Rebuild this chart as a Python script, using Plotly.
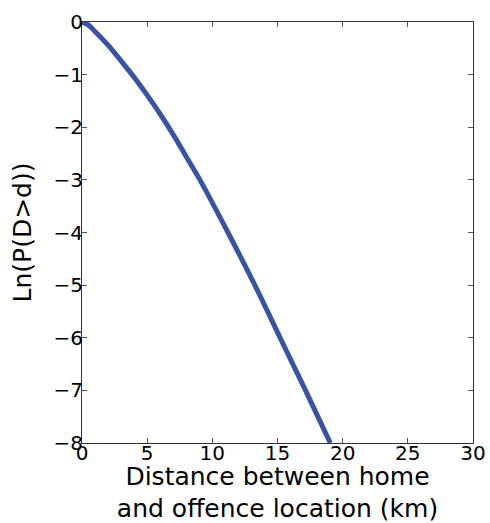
import plotly.graph_objects as go

# Data
distance_km = [0, 0.5, 1, 2, 3, 4, 5, 6, 7, 8, 9.05, 11.2, 13.26, 15.2, 17.15, 19.05]
ln_survival = [0, -0.06, -0.18, -0.44, -0.74, -1.05, -1.39, -1.75, -2.14, -2.56, -3.0,
               -4.0, -5.0, -6.0, -7.0, -8.0]

x_ticks = [0, 5, 10, 15, 20, 25, 30]
y_ticks = [0, -1, -2, -3, -4, -5, -6, -7, -8]

FONT = "DejaVu Sans"

fig = go.Figure()
fig.add_trace(go.Scatter(
    x=distance_km, y=ln_survival, mode="lines",
    line=dict(color="#3953a4", width=5, shape="spline", smoothing=1),
    showlegend=False, hoverinfo="skip", cliponaxis=True))

axis_common = dict(
    showgrid=False, zeroline=False, showline=True, linecolor="#333333", linewidth=1,
    mirror="allticks", ticks="inside", ticklen=5, tickcolor="#555555", tickwidth=1,
    tickfont=dict(family=FONT, size=20, color="black"),
)

fig.update_xaxes(
    range=[0, 30], tickvals=x_ticks, ticktext=[str(v) for v in x_ticks],
    title=dict(text="Distance between home<br>and offence location (km)",
               font=dict(family=FONT, size=25, color="black"), standoff=14),
    ticklabelstandoff=-8,
    **axis_common)
fig.update_yaxes(
    range=[-8, 0], tickvals=y_ticks,
    title=dict(text="Ln(P(D>d))", font=dict(family=FONT, size=25, color="black"), standoff=14),
    ticklabelstandoff=-6,
    **axis_common)

fig.update_layout(
    width=490, height=523,
    margin=dict(l=82, r=17, t=22, b=80, autoexpand=False),
    plot_bgcolor="white", paper_bgcolor="white",
    font=dict(family=FONT, color="black"),
)

fig.write_html("out.html", config={"displayModeBar": False},
               post_script="document.body.style.margin='0';")
